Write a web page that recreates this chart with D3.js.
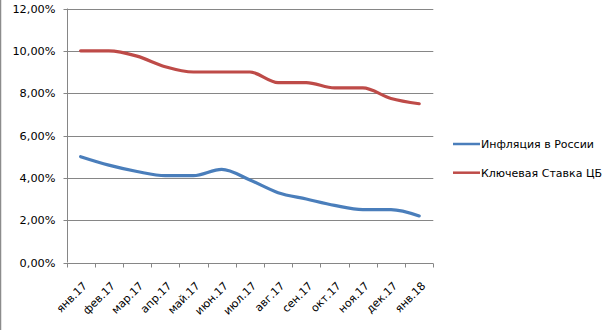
<!DOCTYPE html>
<html><head><meta charset="utf-8">
<script src="https://cdn.jsdelivr.net/npm/d3@7"></script>
<style>body{margin:0;background:#fff}svg{display:block}text{font-family:"DejaVu Sans",sans-serif;fill:#000}</style>
</head><body><svg id="c" width="604" height="330"></svg>
<script>
const categories = ["янв.17","фев.17","мар.17","апр.17","май.17","июн.17","июл.17","авг.17","сен.17","окт.17","ноя.17","дек.17","янв.18"];
const inflation = [5.0, 4.6, 4.3, 4.1, 4.1, 4.4, 3.9, 3.3, 3.0, 2.7, 2.5, 2.5, 2.2];
const keyRate = [10.0, 10.0, 9.75, 9.25, 9.0, 9.0, 9.0, 8.5, 8.5, 8.25, 8.25, 7.75, 7.5];
const yTicks = [0, 2, 4, 6, 8, 10, 12];
const seriesNames = ["Инфляция в России", "Ключевая Ставка ЦБ"];
const colors = ["#4A7EBB", "#BE4B48"];

const svg = d3.select("#c");
const L = 66.5, R = 433.3, T = 8.5, B = 262.5;
const x = d3.scaleBand().domain(categories).range([L, R]);
const y = d3.scaleLinear().domain([0, 12]).range([B, T]);
const fmt = v => v.toFixed(2).replace(".", ",") + "%";
const gray = "#868686";

// left border
svg.append("line").attr("x1",0.5).attr("x2",0.5).attr("y1",0).attr("y2",330).attr("stroke","#8c8c8c").attr("stroke-width",1.5);

// gridlines
svg.append("g").selectAll("line").data(yTicks.filter(d=>d>0)).join("line")
  .attr("x1", L).attr("x2", R).attr("y1", d=>Math.round(y(d))+0.5).attr("y2", d=>Math.round(y(d))+0.5)
  .attr("stroke", gray).attr("stroke-width",1);

// y axis
const ya = svg.append("g").attr("transform", `translate(${Math.round(L)+0.5},0)`)
  .call(d3.axisLeft(y).tickValues(yTicks).tickFormat(fmt).tickSize(4).tickPadding(8));
ya.select(".domain").attr("stroke", gray).attr("d", `M0,${T}V${B}`);
ya.selectAll(".tick line").attr("stroke", gray);
ya.selectAll(".tick").attr("transform", d=>`translate(0,${Math.round(y(d))+0.5})`);
ya.selectAll("text").style("font-family","DejaVu Sans").style("font-size","11.3px").attr("fill","#000");

// x axis
const xa = svg.append("g").attr("transform", `translate(0,${Math.round(B)+0.5})`);
const bounds = categories.map(c=>x(c)).concat([R]);
xa.append("line").attr("x1", L).attr("x2", R).attr("stroke", gray);
xa.selectAll("line.t").data(bounds).join("line").attr("class","t")
  .attr("x1", d=>Math.round(d)+0.5).attr("x2", d=>Math.round(d)+0.5).attr("y1",0).attr("y2",4).attr("stroke", gray);
xa.selectAll("text").data(categories).join("text")
  .attr("transform", d=>`translate(${x(d)+x.bandwidth()/2+7},${23}) rotate(-45)`)
  .attr("text-anchor","end").style("font-size","11px").text(d=>d);

// lines
const line = d3.line().x((d,i)=>x(categories[i])+x.bandwidth()/2).y(d=>y(d)).curve(d3.curveMonotoneX);
[inflation, keyRate].forEach((s,i)=>{
  svg.append("path").datum(s).attr("d", line).attr("fill","none").attr("stroke", colors[i]).attr("stroke-width",3.2).attr("stroke-linecap","round").attr("stroke-linejoin","round");
});

// legend
const lg = svg.append("g");
seriesNames.forEach((n,i)=>{
  const ly = 144 + i*28.7;
  lg.append("line").attr("x1",453).attr("x2",480).attr("y1",ly).attr("y2",ly).attr("stroke",colors[i]).attr("stroke-width",2.5);
  lg.append("text").attr("x",481).attr("y",ly).attr("dy","0.36em").style("font-size","11px").text(n);
});
</script></body></html>
